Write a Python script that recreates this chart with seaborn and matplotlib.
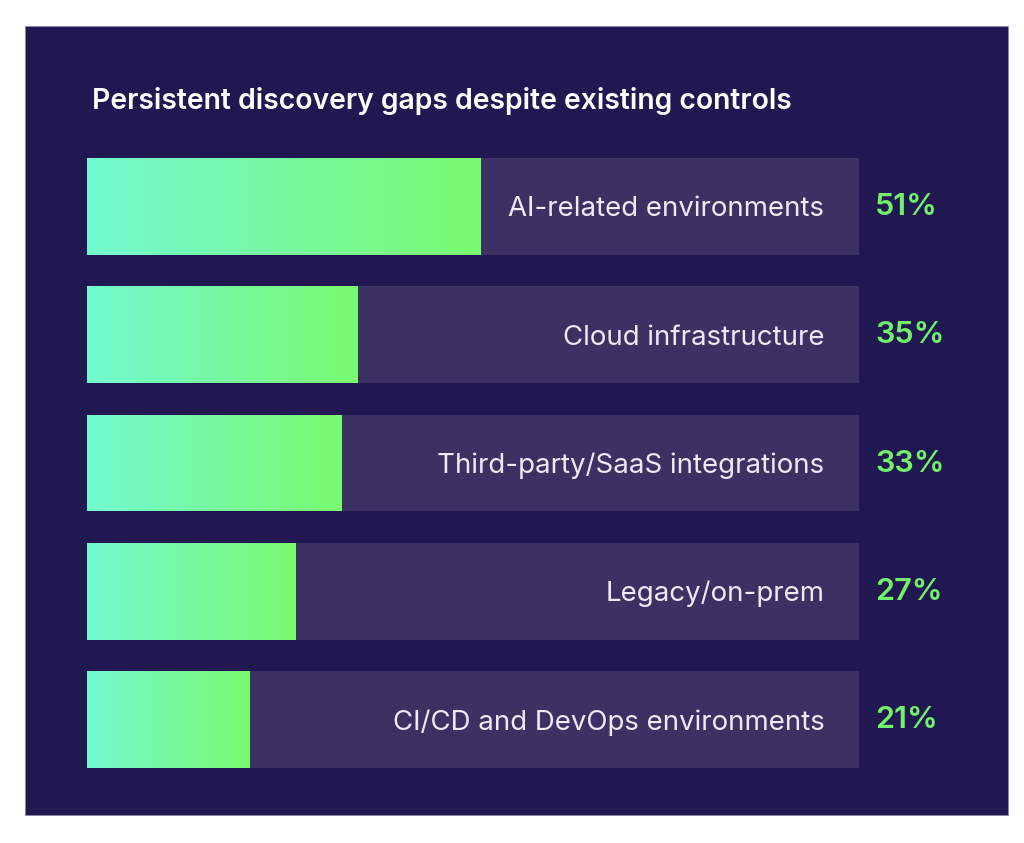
import matplotlib
matplotlib.use("Agg")
import matplotlib.pyplot as plt
import numpy as np
import pandas as pd
import seaborn as sns
from matplotlib.patches import Rectangle
from matplotlib.colors import LinearSegmentedColormap
from matplotlib.transforms import offset_copy

categories = ["AI-related environments", "Cloud infrastructure", "Third-party/SaaS integrations",
              "Legacy/on-prem", "CI/CD and DevOps environments"]
values = [51, 35, 33, 27, 21]
value_labels = ["51%", "35%", "33%", "27%", "21%"]
track = [100, 100, 100, 100, 100]
title = "Persistent discovery gaps despite existing controls"

NAVY = "#211851"
TRACK = "#3c3163"
GREEN_TXT = "#72f26a"
grad = LinearSegmentedColormap.from_list("g", ["#72f9d0", "#7bfa70"])

sns.set_theme(style="white")
plt.rcParams['font.family'] = ['Inter', 'DejaVu Sans']

df = pd.DataFrame({"category": categories, "value": values, "track": track})

fig = plt.figure(figsize=(10.24, 8.43), dpi=100)
fig.patch.set_facecolor("white")
fig.patches.append(Rectangle((25/1024, 1 - 815/843), 983/1024, 789/843, transform=fig.transFigure,
                             facecolor=NAVY, edgecolor="#8a86a8", linewidth=0.6, zorder=-5))

bw = 0.756
ax = fig.add_axes([87/1024, 1 - 768/843, 772/1024, 610/843])
ax.set_facecolor("none")
sns.barplot(data=df, y="category", x="track", orient="h", color=TRACK, width=bw,
            saturation=1, ax=ax, linewidth=0)
n_track = len(ax.patches)
sns.barplot(data=df, y="category", x="value", orient="h", color="white", width=bw,
            saturation=1, ax=ax, linewidth=0)
gradient = np.linspace(0, 1, 256).reshape(1, -1)
for p in ax.patches[n_track:]:
    x0, y0 = p.get_x(), p.get_y()
    w, h = p.get_width(), p.get_height()
    p.set_facecolor("none")
    im = ax.imshow(gradient, cmap=grad, aspect="auto", extent=(x0, x0 + w, y0 + h, y0), zorder=3)
    im.set_clip_path(p)

ax.set_xlim(0, 100)
ax.set_ylim(len(categories) - 1 + bw/2, -bw/2)
ax.set_axis_off()

lab_tr = offset_copy(ax.transData, fig=fig, x=0, y=-10 * 72 / 100, units="points")
pct_tr = offset_copy(ax.transData, fig=fig, x=0, y=-8.5 * 72 / 100, units="points")
for i, (cat, lab) in enumerate(zip(categories, value_labels)):
    ax.text(95.5, i, cat, ha="right", va="baseline", color="#eeeaf6", fontsize=19.9,
            fontweight="normal", transform=lab_tr, zorder=5)
    ax.text(102.1, i, lab, ha="left", va="baseline", color=GREEN_TXT, fontsize=22,
            fontweight="semibold", transform=pct_tr, zorder=5)

fig.text(92/1024, 1 - 101/843, title, ha="left", va="center", color="white",
         fontsize=20.4, fontweight="semibold")

fig.savefig("out.png", dpi=100)
